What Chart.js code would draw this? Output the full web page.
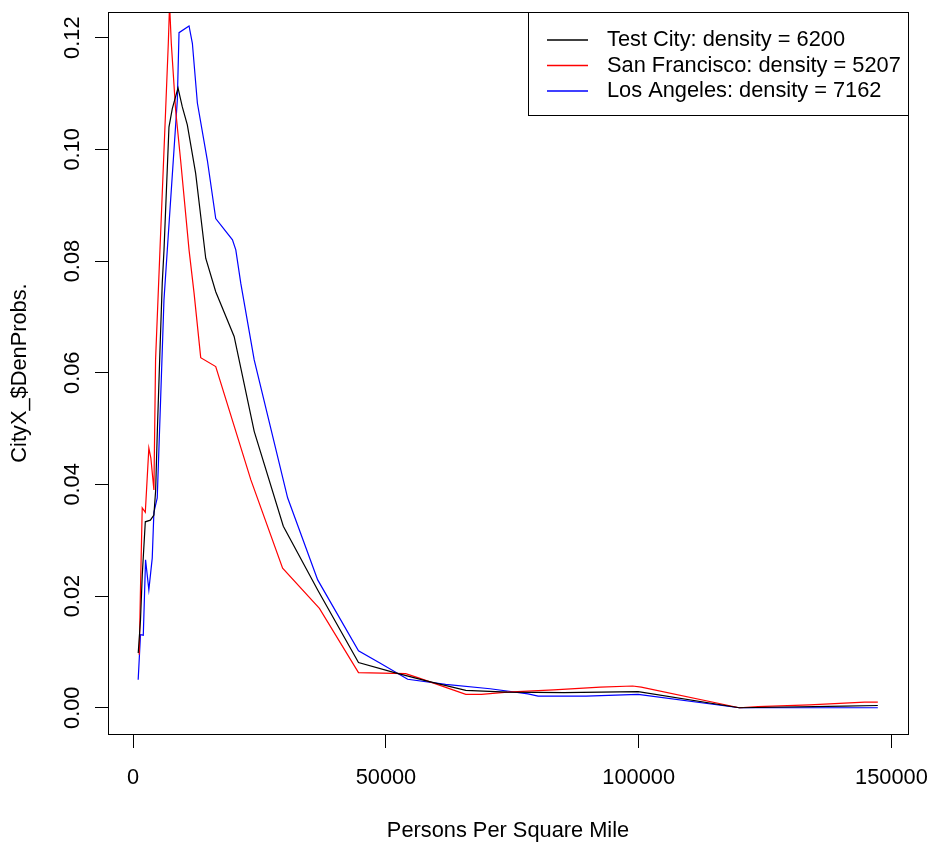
<!DOCTYPE html>
<html>
<head>
<meta charset="utf-8">
<script src="https://cdn.jsdelivr.net/npm/chart.js@4.4.1/dist/chart.umd.min.js"></script>
<style>
  html, body { margin: 0; padding: 0; background: #fff; }
  canvas { display: block; }
</style>
</head>
<body>
<canvas id="dens" width="929" height="842"></canvas>
<script>
// density curves (x = persons per sq mile, y = prob)
const seriesNames = ['Test City: density = 6200', 'San Francisco: density = 5207', 'Los Angeles: density = 7162']
const seriesColors = ['#000000', '#ff0000', '#0000ff']

const testCityX = [1000, 1450, 1800, 2400, 3400, 4100, 4450, 4760, 5300, 5750, 6100, 7080, 7740, 8870, 9720, 10710, 12360, 14350, 16330, 19970, 23940, 29700, 36500, 44570, 51700, 58000, 65800, 74000, 85200, 99900, 119900, 140700, 147300]
const testCityY = [0.0098, 0.0157, 0.0238, 0.0333, 0.0336, 0.0345, 0.039, 0.049, 0.064, 0.076, 0.082, 0.104, 0.1073, 0.111, 0.1076, 0.1044, 0.0957, 0.0805, 0.0745, 0.0665, 0.0495, 0.0325, 0.0211, 0.0081, 0.0063, 0.0048, 0.0031, 0.0028, 0.0027, 0.0029, 0, 0.0003, 0.0004]

const sfX = [1190, 1450, 1790, 2400, 3100, 3500, 4100, 4430, 5300, 6420, 6950, 7200, 7540, 8400, 9390, 11050, 12040, 13360, 16330, 23280, 29560, 36840, 44570, 53900, 56300, 65800, 68900, 74000, 83200, 92400, 98800, 100500, 119900, 123600, 133800, 144700, 147300]
const sfY = [0.0095, 0.0215, 0.0358, 0.035, 0.0465, 0.0447, 0.039, 0.0623, 0.082, 0.107, 0.119, 0.126, 0.119, 0.107, 0.098, 0.082, 0.0743, 0.0627, 0.0611, 0.0408, 0.025, 0.0178, 0.0063, 0.0061, 0.0054, 0.0024, 0.0024, 0.0028, 0.0032, 0.0037, 0.0039, 0.0037, 0, 0.0002, 0.0005, 0.001, 0.001]

const laX = [990, 1450, 2000, 2450, 3100, 3770, 4100, 4760, 5420, 6090, 6750, 8730, 9070, 11050, 11710, 12700, 14680, 16330, 19640, 20300, 21290, 23940, 30550, 36500, 44570, 48800, 54300, 61800, 70600, 78100, 80100, 89600, 99900, 119900, 147300]
const laY = [0.005, 0.0131, 0.013, 0.0265, 0.0211, 0.0268, 0.035, 0.0376, 0.055, 0.073, 0.082, 0.1088, 0.1209, 0.1221, 0.119, 0.1083, 0.098, 0.0876, 0.0838, 0.082, 0.076, 0.0623, 0.0376, 0.0229, 0.0102, 0.008, 0.0051, 0.0042, 0.0034, 0.0025, 0.0021, 0.0021, 0.0024, 0, 0]

const xTicks = [0, 50000, 100000, 150000]
const yTicks = [0, 0.02, 0.04, 0.06, 0.08, 0.10, 0.12]

const fontFam = "'Liberation Sans', Arial, sans-serif"
const fontPx = 21.8

const toPts = (xs, ys) => xs.map((x, i) => ({ x: x, y: ys[i] }))
const allX = [testCityX, sfX, laX]
const allY = [testCityY, sfY, laY]

let datasets = []
for (let i = 0; i < 3; i++) {
  datasets.push({
    label: seriesNames[i],
    data: toPts(allX[i], allY[i]),
    borderColor: seriesColors[i],
    borderWidth: 1.2,
    pointRadius: 0,
    tension: 0,
    fill: false
  })
}

// no extra room for half labels at the ends, keep the plot box fixed
const noPad = s => {
  s.paddingLeft = 0
  s.paddingRight = 0
  s.paddingTop = 0
  s.paddingBottom = 0
}

// box round plot, rotated y labels, R style legend
const rStuff = {
  id: 'rStuff',
  afterDraw(chart) {
    const ctx = chart.ctx
    const a = chart.chartArea
    ctx.save()
    ctx.strokeStyle = '#000'
    ctx.lineWidth = 1
    ctx.strokeRect(a.left + 0.5, a.top + 0.5, a.right - a.left, a.bottom - a.top)

    // y tick labels, parallel to the axis
    const ys = chart.scales.y
    ctx.fillStyle = '#000'
    ctx.font = fontPx + 'px ' + fontFam
    ctx.textAlign = 'center'
    ctx.textBaseline = 'middle'
    yTicks.forEach(v => {
      const py = ys.getPixelForValue(v)
      ctx.save()
      ctx.translate(73, py)
      ctx.rotate(-Math.PI / 2)
      ctx.fillText(v.toFixed(2), 0, 0)
      ctx.restore()
    })

    // legend
    const lgLeft = 528, lgTop = a.top, lgRight = a.right, lgBottom = 115
    ctx.fillStyle = '#fff'
    ctx.fillRect(lgLeft, lgTop, lgRight - lgLeft, lgBottom - lgTop)
    ctx.strokeStyle = '#000'
    ctx.lineWidth = 1
    ctx.strokeRect(lgLeft + 0.5, lgTop + 0.5, lgRight - lgLeft, lgBottom - lgTop)
    ctx.textAlign = 'left'
    for (let i = 0; i < seriesNames.length; i++) {
      const rowY = 40 + i * 25.5
      ctx.beginPath()
      ctx.strokeStyle = seriesColors[i]
      ctx.lineWidth = 1.4
      ctx.moveTo(547, rowY)
      ctx.lineTo(588, rowY)
      ctx.stroke()
      ctx.fillStyle = '#000'
      ctx.fillText(seriesNames[i], 607, rowY)
    }
    ctx.restore()
  }
}

new Chart('dens', {
  type: 'line',
  data: { datasets: datasets },
  options: {
    responsive: false,
    animation: false,
    layout: { padding: { top: 12, right: 21, left: 0, bottom: 0 } },
    plugins: { legend: { display: false }, tooltip: { enabled: false } },
    scales: {
      x: {
        type: 'linear',
        min: -4980,
        max: 153270,
        afterBuildTicks: s => { s.ticks = xTicks.map(v => ({ value: v })) },
        afterFit: s => { s.height = 108; noPad(s) },
        border: { display: false },
        grid: { drawOnChartArea: false, drawTicks: true, tickLength: 14, color: '#000', lineWidth: 1 },
        ticks: {
          color: '#000',
          padding: 17,
          maxRotation: 0,
          font: { family: fontFam, size: fontPx },
          callback: v => String(v)
        },
        title: {
          display: true,
          text: 'Persons Per Square Mile',
          color: '#000',
          padding: { top: 0, bottom: 0 },
          font: { family: fontFam, size: fontPx, lineHeight: 1 }
        }
      },
      y: {
        type: 'linear',
        min: -0.0047,
        max: 0.1246,
        afterBuildTicks: s => { s.ticks = yTicks.map(v => ({ value: v })) },
        afterFit: s => { s.width = 108; noPad(s) },
        border: { display: false },
        grid: { drawOnChartArea: false, drawTicks: true, tickLength: 13, color: '#000', lineWidth: 1 },
        ticks: { display: false },
        title: {
          display: true,
          text: 'CityX_$DenProbs.',
          color: '#000',
          padding: { top: 9.5, bottom: 0 },
          font: { family: fontFam, size: fontPx, lineHeight: 1 }
        }
      }
    }
  },
  plugins: [rStuff]
})
</script>
</body>
</html>
